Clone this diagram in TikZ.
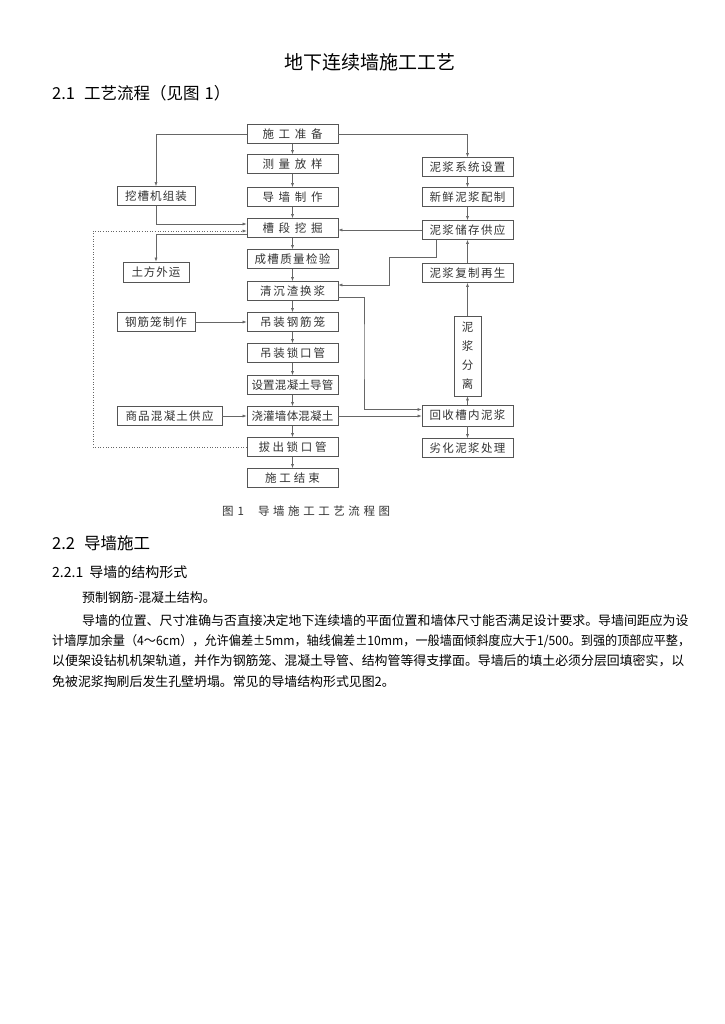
\documentclass[tikz,border=0pt]{standalone}
\usepackage{fontspec}
\usepackage{graphicx}
\setmainfont{Noto Sans CJK SC}
\usetikzlibrary{arrows.meta}
\XeTeXlinebreaklocale "zh"
\XeTeXlinebreakskip=0pt plus 3pt
\ExplSyntaxOn
\NewDocumentCommand\spr{mm}{\hbox_to_wd:nn{#1}{\tl_map_inline:nn{#2}{##1\hfil}\unskip}}
\ExplSyntaxOff
\definecolor{boxc}{HTML}{555555}
\definecolor{txtc}{HTML}{333333}
\definecolor{arrc}{HTML}{666666}
\tikzset{
  box/.style={draw=boxc, line width=0.7pt, minimum height=19pt, inner sep=0pt,
    font=\fontsize{11.5}{12}\selectfont, text=txtc},
  arr/.style={draw=arrc, line width=0.6pt, -{Latex[length=4pt,width=3pt]}},
  dotarr/.style={draw=arrc, line width=0.6pt, dotted, -{Latex[length=4pt,width=3pt]}},
  ptext/.style={anchor=west, inner sep=0pt, font=\fontsize{12.9}{15}\selectfont}
}
\begin{document}
\begin{tikzpicture}[x=1pt,y=-1pt]
\useasboundingbox (0,0) rectangle (724,1024);
\fill[white] (0,0) rectangle (724,1024);
% headings
\node[inner sep=0pt, font=\fontsize{19}{22}\selectfont] (title) at (370,62) {地下连续墙施工工艺};
\node[anchor=west, inner sep=0pt, font=\fontsize{16.5}{19}\selectfont] (h21) at (52,93) {2.1\hspace{9pt}工艺流程（见图\hspace{5pt}1）};
% centre column
\node[box, minimum width=91pt] (n1) at (292.5,134) {\spr{60pt}{施工准备}};
\node[box, minimum width=91pt] (n2) at (292.5,164) {\spr{60pt}{测量放样}};
\node[box, minimum width=91pt] (n3) at (292.5,197) {\spr{60pt}{导墙制作}};
\node[box, minimum width=91pt] (n4) at (292.5,228) {\spr{60pt}{槽段挖掘}};
\node[box, minimum width=91pt] (n5) at (292.5,259) {\spr{76pt}{成槽质量检验}};
\node[box, minimum width=91pt] (n6) at (292.5,291) {\spr{65pt}{清沉渣换浆}};
\node[box, minimum width=91pt] (n7) at (292.5,322) {\spr{65pt}{吊装钢筋笼}};
\node[box, minimum width=91pt] (n8) at (292.5,353) {\spr{65pt}{吊装锁口管}};
\node[box, minimum width=91pt] (n9) at (292.5,385) {\spr{82pt}{设置混凝土导管}};
\node[box, minimum width=91pt] (n10) at (292.5,416) {\spr{82pt}{浇灌墙体混凝土}};
\node[box, minimum width=91pt] (n11) at (292.5,447) {\spr{68pt}{拔出锁口管}};
\node[box, minimum width=91pt] (n12) at (292.5,478) {\spr{55pt}{施工结束}};
% left column
\node[box, minimum width=78pt] (L1) at (156,196) {\spr{62pt}{挖槽机组装}};
\node[box, minimum width=66pt, minimum height=20pt] (L2) at (156,272) {\spr{49pt}{土方外运}};
\node[box, minimum width=78pt] (L3) at (156,322) {\spr{62pt}{钢筋笼制作}};
\node[box, minimum width=105pt] (L4) at (169.5,416) {\spr{88pt}{商品混凝土供应}};
% right column
\node[box, minimum width=91pt] (R1) at (467.5,167) {\spr{76pt}{泥浆系统设置}};
\node[box, minimum width=91pt] (R2) at (467.5,197) {\spr{76pt}{新鲜泥浆配制}};
\node[box, minimum width=91pt] (R3) at (467.5,230) {\spr{76pt}{泥浆储存供应}};
\node[box, minimum width=91pt] (R4) at (467.5,273) {\spr{76pt}{泥浆复制再生}};
\node[box, minimum width=27pt, minimum height=80pt, align=center,
  font=\fontsize{11.5}{19}\selectfont] (R5) at (467.5,356) {泥\\浆\\分\\离};
\node[box, minimum width=91pt, minimum height=21pt] (R6) at (467.5,415.5) {\spr{76pt}{回收槽内泥浆}};
\node[box, minimum width=91pt] (R7) at (467.5,448) {\spr{76pt}{劣化泥浆处理}};
% centre arrows
\foreach \a/\b in {n1/n2,n2/n3,n3/n4,n4/n5,n5/n6,n6/n7,n7/n8,n8/n9,n9/n10,n10/n11,n11/n12}
  \draw[arr] (\a.south) -- (\b.north);
% right column arrows
\draw[arr] (R1.south) -- (R2.north);
\draw[arr] (R2.south) -- (R3.north);
\draw[arr] (R4.north) -- (R3.south);
\draw[arr] (R5.north) -- (R4.south);
\draw[arr] (R6.north) -- (R5.south);
\draw[arr] (R6.south) -- (R7.north);
% branches from top
\draw[arr] (n1.west) -| (L1.north);
\draw[arr] (n1.east) -| (R1.north);
% left side
\draw[arr] (L1.south) |- ([yshift=4pt]n4.west);
\draw[arr] ([yshift=-6pt]n4.west) -| (L2.north);
\coordinate (dl) at (93,300);
\draw[dotarr] (n11.west) -- (n11.west -| dl) |- ([yshift=-3pt]n4.west);
\draw[arr] (L3.east) -- (n7.west);
\draw[arr] (L4.east) -- (n10.west);
% right side connections
\draw[arr] (R3.west) -- (R3.west -| n4.east);
\coordinate (k1) at (389,257);
\draw[arr] ([xshift=-31.5pt]R3.south) |- (k1) |- ([yshift=6pt]n6.east);
\coordinate (k2) at (364,350);
\coordinate (r6a) at ([yshift=6pt]R6.west);
\draw[arr] ([yshift=-6pt]n6.east) -| (k2) |- (r6a);
\draw[arr] (n10.east) -- (n10.east -| R6.west);
% caption
\node[anchor=west, inner sep=0pt, font=\fontsize{11.5}{13}\selectfont, text=txtc] (cap) at (222,511) {图\hspace{4pt}1\hspace{14pt}\spr{132pt}{导墙施工工艺流程图}};
% section 2.2
\node[anchor=west, inner sep=0pt, font=\fontsize{16.5}{19}\selectfont] (h22) at (52,543) {2.2\hspace{9pt}导墙施工};
\node[anchor=west, inner sep=0pt, font=\fontsize{14}{17}\selectfont] (h221) at (52,572) {2.2.1\hspace{6pt}导墙的结构形式};
\node[ptext] (p1) at (82,598) {预制钢筋-混凝土结构。};
\node[ptext] (p2) at (82,621) {\hbox to 608pt{导墙的位置、尺寸准确与否直接决定地下连续墙的平面位置和墙体尺寸能否满足设计要求。导墙间距应为设}};
\node[ptext] (p3) at (52,641) {\resizebox{638pt}{\height}{计墙厚加余量（4～6cm），允许偏差±5mm，轴线偏差±10mm，一般墙面倾斜度应大于1/500。到强的顶部应平整，}};
\node[ptext] (p4) at (52,661) {\hbox to 624pt{以便架设钻机机架轨道，并作为钢筋笼、混凝土导管、结构管等得支撑面。导墙后的填土必须分层回填密实，以}};
\node[ptext] (p5) at (52,682) {免被泥浆掏刷后发生孔壁坍塌。常见的导墙结构形式见图2。};
\end{tikzpicture}
\end{document}
